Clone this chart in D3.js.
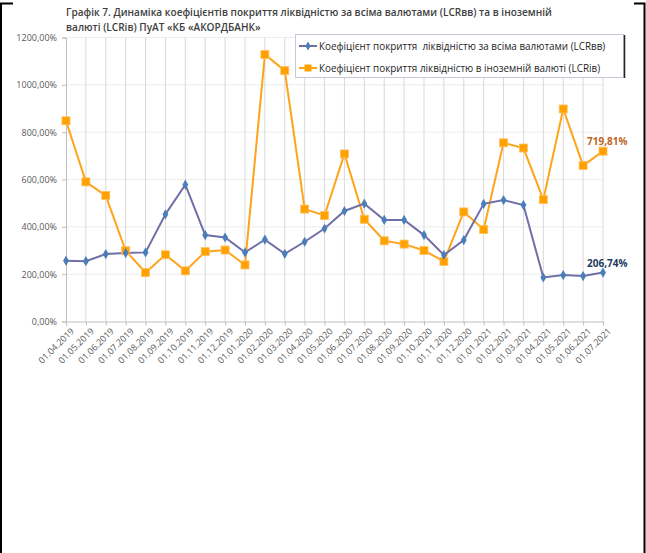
<!DOCTYPE html>
<html><head><meta charset="utf-8">
<script src="https://cdn.jsdelivr.net/npm/d3@7/dist/d3.min.js"></script>
<style>html,body{margin:0;padding:0;background:#fff;}svg{display:block;font-family:"Open Sans","Noto Sans",sans-serif;}</style>
</head><body>
<svg id="c" width="646" height="553"></svg>
<script>
const categories = ["01.04.2019","01.05.2019","01.06.2019","01.07.2019","01.08.2019","01.09.2019","01.10.2019","01.11.2019","01.12.2019","01.01.2020","01.02.2020","01.03.2020","01.04.2020","01.05.2020","01.06.2020","01.07.2020","01.08.2020","01.09.2020","01.10.2020","01.11.2020","01.12.2020","01.01.2021","01.02.2021","01.03.2021","01.04.2021","01.05.2021","01.06.2021","01.07.2021"];
const lcrAll = [257,255,285,289,292,453,578,365,355,292,346,286,337,393,467,498,429,429,365,281,344,497,513,492,186,196,192,206.74];
const lcrFx = [848,590,532,299,207,282,214,295,302,239,1128,1060,475,448,708,432,341,327,300,254,463,389,755,733,515,898,659,719.81];
const yTicks = [0,200,400,600,800,1000,1200];
const seriesNames = ["Коефіцієнт покриття  ліквідністю за всіма валютами (LCRвв)","Коефіцієнт покриття ліквідністю в іноземній валюті (LCRів)"];
const titleLines = ["Графік 7. Динаміка коефіцієнтів покриття ліквідністю за всіма валютами (LCRвв) та в іноземній","валюті (LCRів) ПуАТ «КБ «АКОРДБАНК»"];

const svg = d3.select("#c");
const fmt = v => d3.format(".2f")(v).replace(".", ",") + "%";

// frame
svg.append("path").attr("d","M13,3.5 H1 V553").attr("fill","none").attr("stroke","#000").attr("stroke-width",2);
svg.append("path").attr("d","M634,3.5 H644.5 V553").attr("fill","none").attr("stroke","#000").attr("stroke-width",2);

// title
const tg = svg.append("g");
const tt = tg.selectAll("text").data(titleLines).join("text")
  .attr("x",0).attr("y",(d,i)=>16+i*15).attr("font-size",10).attr("font-weight","600").attr("fill","#404040")
  .text(d=>d);
const tlen = tt.nodes()[0].getComputedTextLength();
tg.attr("transform",`translate(66,0) scale(${487/tlen},1)`);

const x = d3.scalePoint().domain(categories).range([66,603]);
const y = d3.scaleLinear().domain([0,1200]).range([321.5,37.5]);

// grid
svg.append("g").selectAll("line").data(yTicks.slice(1)).join("line")
  .attr("x1",66).attr("x2",603).attr("y1",d=>y(d)).attr("y2",d=>y(d)).attr("stroke","#ececec").attr("stroke-width",1);
svg.append("g").selectAll("line").data(categories.slice(1)).join("line")
  .attr("x1",d=>x(d)).attr("x2",d=>x(d)).attr("y1",y(1200)).attr("y2",y(0)).attr("stroke","#d9d9d9").attr("stroke-width",1);

// axes
const yAxis = svg.append("g").attr("transform","translate(66,0)")
  .call(d3.axisLeft(y).tickValues(yTicks).tickFormat(fmt).tickSize(4).tickPadding(5));
yAxis.select(".domain").attr("stroke","#bfbfbf");
yAxis.selectAll(".tick line").attr("stroke","#bfbfbf");
yAxis.selectAll("text").attr("font-size",9).attr("fill","#595959").attr("font-family","'Open Sans',sans-serif");

const xAxis = svg.append("g").attr("transform",`translate(0,${y(0)})`)
  .call(d3.axisBottom(x).tickSize(4).tickPadding(2));
xAxis.select(".domain").attr("stroke","#bfbfbf");
xAxis.selectAll(".tick line").attr("stroke","#bfbfbf");
xAxis.selectAll("text").attr("font-size",9).attr("fill","#595959").attr("font-family","'Open Sans',sans-serif")
  .attr("text-anchor","end").attr("dx","0").attr("dy","0")
  .attr("transform","translate(4,6) rotate(-45)");

// lines
const line = d3.line().x((d,i)=>x(categories[i])).y(d=>y(d));
svg.append("path").datum(lcrFx).attr("d",line).attr("fill","none").attr("stroke","#ffa31a").attr("stroke-width",2);
svg.append("path").datum(lcrAll).attr("d",line).attr("fill","none").attr("stroke","#6f6fa8").attr("stroke-width",2);

// markers
svg.append("g").selectAll("rect").data(lcrFx).join("rect")
  .attr("x",(d,i)=>x(categories[i])-4).attr("y",d=>y(d)-4).attr("width",8).attr("height",8)
  .attr("fill","#ffa200").attr("stroke","#ffbf60").attr("stroke-width",0.8);
svg.append("g").selectAll("path").data(lcrAll).join("path")
  .attr("d",d3.symbol().type(d3.symbolDiamond).size(30))
  .attr("transform",(d,i)=>`translate(${x(categories[i])},${y(d)})`)
  .attr("fill","#4a7ebb");

// data labels
const last = categories.length-1;
svg.append("text").attr("x",x(categories[last])-16).attr("y",y(lcrFx[last])-6).attr("font-size",10).attr("font-weight","bold").attr("fill","#c0641e").text(fmt(lcrFx[last]));
svg.append("text").attr("x",x(categories[last])-16).attr("y",y(lcrAll[last])-6).attr("font-size",10).attr("font-weight","bold").attr("fill","#243a5e").text(fmt(lcrAll[last]));

// legend
const lg = svg.append("g");
lg.append("rect").attr("x",295.5).attr("y",34.5).attr("width",328).attr("height",43).attr("fill","#fff").attr("stroke","#c8c8d8");
lg.append("line").attr("x1",624.5).attr("x2",624.5).attr("y1",35).attr("y2",78).attr("stroke","#222").attr("stroke-width",1.5);
const rows = [{c:"#6f6fa8",m:"d",y:46},{c:"#ffa31a",m:"s",y:68}];
rows.forEach((r,i)=>{
  lg.append("line").attr("x1",299).attr("x2",317).attr("y1",r.y).attr("y2",r.y).attr("stroke",r.c).attr("stroke-width",2);
  if(r.m==="d") lg.append("path").attr("d",d3.symbol().type(d3.symbolDiamond).size(24)).attr("transform",`translate(308,${r.y})`).attr("fill","#4a7ebb");
  else lg.append("rect").attr("x",304.5).attr("y",r.y-3.5).attr("width",7).attr("height",7).attr("fill","#ffa200");
  lg.append("text").attr("x",319).attr("y",r.y+3.5).attr("font-size",9.9).attr("fill","#262626").style("white-space","pre").text(seriesNames[i]);
});
</script>
</body></html>
